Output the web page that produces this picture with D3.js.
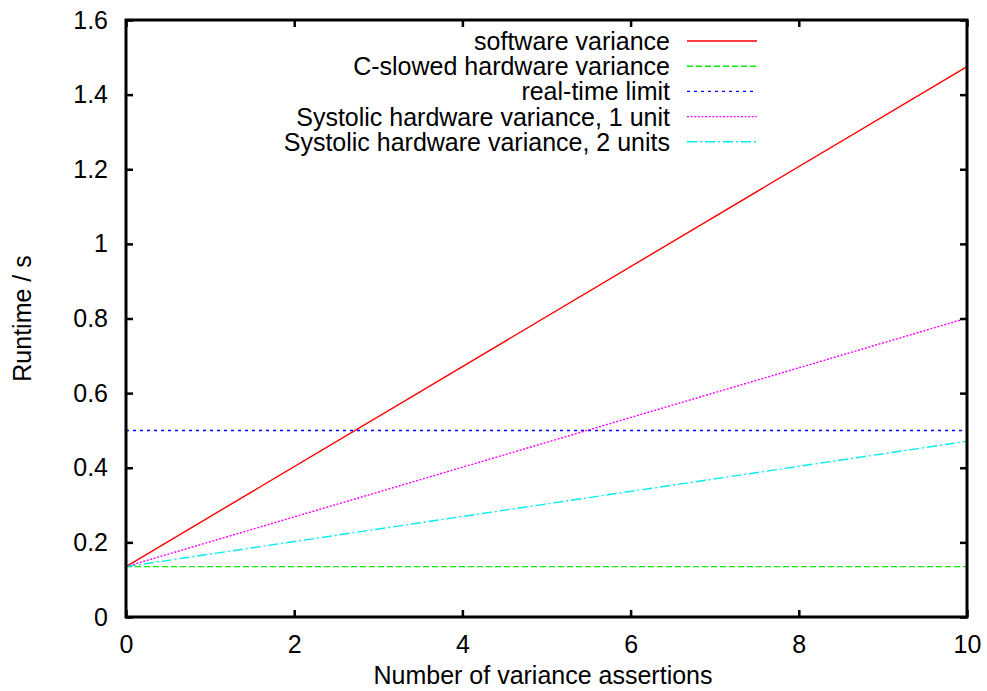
<!DOCTYPE html>
<html>
<head>
<meta charset="utf-8">
<title>Runtime vs variance assertions</title>
<script src="https://d3js.org/d3.v7.min.js"></script>
<style>
  body { margin: 0; background: #fff; }
  text { font-family: "Liberation Sans", Arial, Helvetica, sans-serif; fill: #000; }
</style>
</head>
<body>
<script>
// data (end points of each straight line)
var assertions = [0, 10];
var software = [0.135, 1.475];
var cSlowed = [0.135, 0.135];
var realTime = [0.5, 0.5];
var systolic1 = [0.135, 0.801];
var systolic2 = [0.135, 0.471];

var xTicks = [0, 2, 4, 6, 8, 10];
var yTicks = [0, 0.2, 0.4, 0.6, 0.8, 1, 1.2, 1.4, 1.6];

var seriesNames = ["software variance", "C-slowed hardware variance", "real-time limit",
  "Systolic hardware variance, 1 unit", "Systolic hardware variance, 2 units"];
var seriesValues = [software, cSlowed, realTime, systolic1, systolic2];
var seriesColors = ["#ff0000", "#00ee00", "#0000ff", "#ff00ff", "#00eeee"];
var seriesDash = [null, "6,3", "3,4", "2,1.6", "10,3,2,3"];

var width = 987, height = 691;
var pLeft = 126, pRight = 967, pTop = 20, pBottom = 617;
var fs = 25;

var svg = d3.select("body").append("svg")
  .attr("width", width)
  .attr("height", height);

var x = d3.scaleLinear().domain([0, 10]).range([pLeft, pRight]);
var y = d3.scaleLinear().domain([0, 1.6]).range([pBottom, pTop]);

// lines
var line = d3.line()
  .x(function(d) { return x(d[0]); })
  .y(function(d) { return y(d[1]); });

var plot = svg.append("g");
seriesValues.forEach(function(vals, i) {
  var pts = assertions.map(function(a, j) { return [a, vals[j]]; });
  plot.append("path")
    .attr("d", line(pts))
    .attr("fill", "none")
    .attr("stroke", seriesColors[i])
    .attr("stroke-width", 1.4)
    .attr("stroke-dasharray", seriesDash[i]);
});

// axes, gnuplot style: ticks inward, mirrored
var tick = 7;
svg.append("g").attr("transform", "translate(0," + pBottom + ")")
  .call(d3.axisBottom(x).tickValues(xTicks).tickSize(-tick).tickPadding(18).tickFormat(d3.format("d")));
svg.append("g").attr("transform", "translate(0," + pTop + ")")
  .call(d3.axisTop(x).tickValues(xTicks).tickSize(-tick).tickFormat(""));
svg.append("g").attr("transform", "translate(" + pLeft + ",0)")
  .call(d3.axisLeft(y).tickValues(yTicks).tickSize(-tick).tickPadding(18).tickFormat(function(d) { return String(+d.toFixed(1)); }));
svg.append("g").attr("transform", "translate(" + pRight + ",0)")
  .call(d3.axisRight(y).tickValues(yTicks).tickSize(-tick).tickFormat(""));

svg.selectAll(".domain").remove();
svg.selectAll(".tick line").attr("stroke", "#000").attr("stroke-width", 2.5);
svg.selectAll(".tick text").style("font-size", fs + "px").attr("fill", "#000");

// frame
svg.append("rect")
  .attr("x", pLeft).attr("y", pTop)
  .attr("width", pRight - pLeft).attr("height", pBottom - pTop)
  .attr("fill", "none").attr("stroke", "#000").attr("stroke-width", 3);

// axis labels
svg.append("text")
  .attr("x", 543)
  .attr("y", 684)
  .attr("text-anchor", "middle")
  .style("font-size", fs + "px")
  .text("Number of variance assertions");

svg.append("text")
  .attr("transform", "translate(31," + ((pTop + pBottom) / 2) + ") rotate(-90)")
  .attr("text-anchor", "middle")
  .style("font-size", fs + "px")
  .text("Runtime / s");

// legend
var legend = svg.append("g");
seriesNames.forEach(function(name, i) {
  var ly = 41 + i * 25.2;
  legend.append("text")
    .attr("x", 670)
    .attr("y", ly + 9)
    .attr("text-anchor", "end")
    .style("font-size", fs + "px")
    .text(name);
  legend.append("line")
    .attr("x1", 687).attr("x2", 757)
    .attr("y1", ly).attr("y2", ly)
    .attr("stroke", seriesColors[i])
    .attr("stroke-width", 1.4)
    .attr("stroke-dasharray", seriesDash[i]);
});
</script>
</body>
</html>
